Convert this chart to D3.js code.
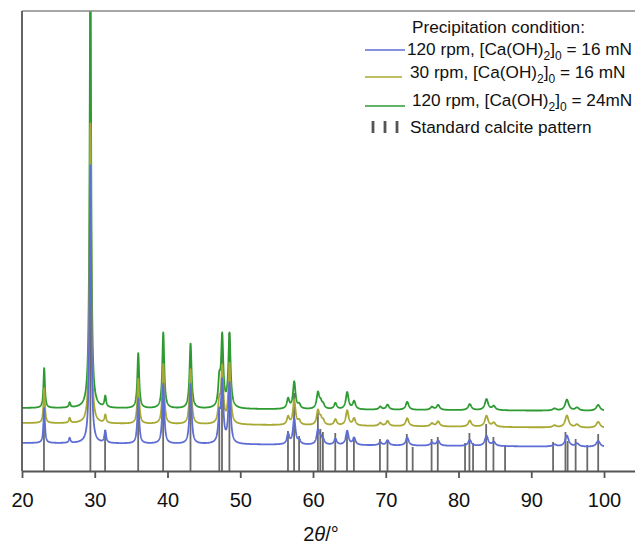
<!DOCTYPE html>
<html>
<head>
<meta charset="utf-8">
<script src="https://cdn.jsdelivr.net/npm/d3@7"></script>
<style>
  html, body { margin: 0; padding: 0; background: #fff; }
  svg { display: block; font-family: "Liberation Sans", Arial, Helvetica, sans-serif; }
</style>
</head>
<body>
<script>
// ---- data ----
const xTicks = [20, 30, 40, 50, 60, 70, 80, 90, 100];

// peak positions (2θ, degrees) seen in the measured patterns
const peakPos   = [23.05, 26.55, 29.40, 31.45, 35.98, 39.42, 43.17, 47.12, 47.52, 48.52,
                   56.58, 57.42, 58.10, 60.68, 61.05, 61.40, 63.08, 64.70, 65.65, 69.25,
                   70.25, 72.95, 76.35, 77.20, 81.55, 83.85, 84.85, 93.20, 94.90, 96.30, 99.20];
// peak heights above the background (arbitrary units)
const greenH = [40, 5, 430, 11, 55, 76, 65, 25, 70, 74,
                10, 27, 4, 16, 6, 4, 6, 17, 8, 3,
                5, 8, 3, 5, 6, 11, 4, 2, 11, 3, 6];
const oliveH = [35, 5, 300, 8, 45, 60, 55, 20, 55, 60,
                8, 25, 4, 14, 6, 4, 6, 15, 7, 3,
                5, 8, 3, 5, 6, 11, 4, 2, 12, 3, 6];
const blueH  = [35, 5, 278, 12, 45, 60, 60, 25, 60, 60,
                10, 26, 4, 14, 6, 4, 6, 14, 7, 3,
                5, 8, 3, 5, 6, 10, 4, 2, 11, 3, 6];
// background level of each pattern at 20° and 100°
const greenBg = [63, 60];
const oliveBg = [48, 43];
const blueBg  = [28, 24];

// standard calcite pattern (stick positions and heights)
const stickPos = [23.02, 29.40, 31.42, 35.97, 39.40, 43.16, 47.12, 47.49, 48.51, 56.56,
                  57.40, 58.09, 60.67, 61.01, 61.36, 63.06, 64.67, 65.62, 69.20, 70.24,
                  72.89, 73.70, 76.30, 77.15, 80.90, 81.50, 82.00, 83.80, 84.80, 86.40,
                  93.00, 94.70, 95.00, 96.10, 97.70, 99.20];
const stickH   = [90, 460, 41, 95, 115, 110, 60, 120, 138, 40,
                  78, 35, 58, 42, 39, 38, 40, 34, 32, 31,
                  37, 24, 32, 34, 28, 38, 28, 47, 34, 26,
                  29, 39, 30, 32, 26, 37];

const legendTitle = "Precipitation condition:";
const legendRpm   = ["120 rpm, [Ca(OH)", "30 rpm, [Ca(OH)", "120 rpm, [Ca(OH)"];
const legendConc  = [" = 16 mN", " = 16 mN", " = 24mN"];
const stickLabel  = "Standard calcite pattern";
const xLabel = ["2", "θ", "/°"];

// ---- drawing ----
const W = 635, H = 544;
const svg = d3.select("body").append("svg").attr("width", W).attr("height", H);

const x = d3.scaleLinear().domain([20, 104.26]).range([22, 635]);
const y = d3.scaleLinear().domain([0, 460]).range([471, 11]);

svg.append("defs").append("clipPath").attr("id", "plotclip")
  .append("rect").attr("x", x(20)).attr("y", y(460)).attr("width", x(104.26) - x(20)).attr("height", y(0) - y(460));

const plot = svg.append("g").attr("clip-path", "url(#plotclip)");

// sticks
plot.append("g").selectAll("line").data(stickPos).join("line")
  .attr("x1", d => x(d)).attr("x2", d => x(d))
  .attr("y1", y(0)).attr("y2", (d, i) => y(stickH[i]))
  .attr("stroke", "#6a6a6a").attr("stroke-width", 1.8);

// patterns
const grid = d3.range(20, 100.0001, 0.02);
function pattern(heights, bg) {
  const bgScale = d3.scaleLinear().domain([20, 100]).range(bg);
  return grid.map(t => {
    let v = bgScale(t);
    peakPos.forEach((p, i) => {
      const hw = (0.22 + 0.005 * (p - 20)) / 2;
      const d = (t - p) / hw;
      v += heights[i] / (1 + d * d);
    });
    return [t, v];
  });
}
const line = d3.line().x(d => x(d[0])).y(d => y(d[1]));
const series = [
  { h: greenH, bg: greenBg, c: "#2e9a32" },
  { h: oliveH, bg: oliveBg, c: "#a8a834" },
  { h: blueH,  bg: blueBg,  c: "#5e6ed4" }
];
series.forEach(s => {
  plot.append("path").datum(pattern(s.h, s.bg))
    .attr("d", line).attr("fill", "none")
    .attr("stroke", s.c).attr("stroke-width", 1.8).attr("stroke-linejoin", "round");
});

// frame
svg.append("line").attr("x1", x(20)).attr("x2", W).attr("y1", y(460)).attr("y2", y(460))
  .attr("stroke", "#888").attr("stroke-width", 1.6);
svg.append("line").attr("x1", x(20)).attr("x2", x(20)).attr("y1", y(460)).attr("y2", y(0))
  .attr("stroke", "#555").attr("stroke-width", 1.8);

// x axis
const xAxis = d3.axisBottom(x).tickValues(xTicks).tickSize(7).tickSizeOuter(0).tickPadding(15);
const gx = svg.append("g").attr("transform", `translate(0,${y(0)})`).call(xAxis);
gx.select(".domain").attr("stroke", "#555").attr("stroke-width", 1.8);
gx.selectAll(".tick line").attr("stroke", "#555").attr("stroke-width", 1.8);
gx.selectAll(".tick text").attr("font-size", 20).attr("fill", "#111")
  .attr("font-family", "'Liberation Sans', Arial, sans-serif");

// x label
const xl = svg.append("text").attr("x", 321).attr("y", 541).attr("text-anchor", "middle")
  .attr("font-size", 20).attr("fill", "#111");
xl.append("tspan").text(xLabel[0]);
xl.append("tspan").attr("font-style", "italic").text(xLabel[1]);
xl.append("tspan").text(xLabel[2]);

// legend
const lg = svg.append("g").attr("font-size", 17.2).attr("fill", "#111");
lg.append("text").attr("x", 412).attr("y", 33).text(legendTitle);
const rowText = [407, 410, 412];
const rowBase = [55, 78, 106];
const rowLine = [50, 77, 106];
const rowLineEnd = [405, 402, 405];
const legColors = ["#5e6ed4", "#a8a834", "#2e9a32"];
legendRpm.forEach((t, i) => {
  lg.append("line").attr("x1", 365).attr("x2", rowLineEnd[i])
    .attr("y1", rowLine[i]).attr("y2", rowLine[i])
    .attr("stroke", legColors[i]).attr("stroke-width", 1.5);
  const tx = lg.append("text").attr("x", rowText[i]).attr("y", rowBase[i]);
  tx.append("tspan").text(t);
  tx.append("tspan").attr("font-size", 12).attr("dy", 5).text("2");
  tx.append("tspan").attr("dy", -5).text("]");
  tx.append("tspan").attr("font-size", 12).attr("dy", 5).text("0");
  tx.append("tspan").attr("dy", -5).text(legendConc[i]);
});
[373, 385, 397].forEach(px => {
  lg.append("line").attr("x1", px).attr("x2", px).attr("y1", 121).attr("y2", 133)
    .attr("stroke", "#555").attr("stroke-width", 2.8);
});
lg.append("text").attr("x", 410).attr("y", 133).text(stickLabel);
</script>
</body>
</html>
